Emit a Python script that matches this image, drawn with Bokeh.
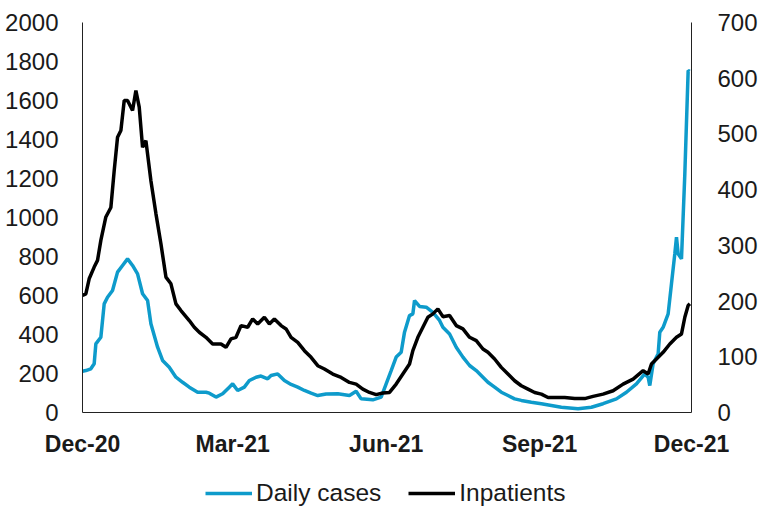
import pandas as pd
from bokeh.plotting import figure
from bokeh.layouts import column
from bokeh.models import (Range1d, LinearAxis, FixedTicker, Legend, LegendItem)
from bokeh.embed import file_html
from bokeh.resources import INLINE

# Daily new cases (left axis)
case_dates = [
    "2020-12-01", "2020-12-03", "2020-12-06", "2020-12-08", "2020-12-09", "2020-12-12",
    "2020-12-14", "2020-12-16", "2020-12-19", "2020-12-22", "2020-12-25", "2020-12-28",
    "2020-12-31", "2021-01-03", "2021-01-06", "2021-01-09", "2021-01-11", "2021-01-15",
    "2021-01-18", "2021-01-22", "2021-01-26", "2021-01-30", "2021-02-03", "2021-02-08",
    "2021-02-13", "2021-02-15", "2021-02-19", "2021-02-23", "2021-02-27", "2021-03-01",
    "2021-03-04", "2021-03-08", "2021-03-11", "2021-03-15", "2021-03-18", "2021-03-22",
    "2021-03-24", "2021-03-28", "2021-04-01", "2021-04-05", "2021-04-09", "2021-04-13",
    "2021-04-17", "2021-04-21", "2021-04-26", "2021-05-03", "2021-05-10", "2021-05-14",
    "2021-05-17", "2021-05-24", "2021-05-29", "2021-06-01", "2021-06-04", "2021-06-07",
    "2021-06-10", "2021-06-12", "2021-06-15", "2021-06-17", "2021-06-18", "2021-06-21",
    "2021-06-25", "2021-06-29", "2021-07-03", "2021-07-05", "2021-07-09", "2021-07-13",
    "2021-07-17", "2021-07-21", "2021-07-25", "2021-07-29", "2021-08-01", "2021-08-05",
    "2021-08-09", "2021-08-13", "2021-08-17", "2021-08-21", "2021-08-27", "2021-09-02",
    "2021-09-08", "2021-09-14", "2021-09-24", "2021-10-02", "2021-10-09", "2021-10-17",
    "2021-10-23", "2021-10-29", "2021-11-03", "2021-11-05", "2021-11-06", "2021-11-08",
    "2021-11-11", "2021-11-12", "2021-11-14", "2021-11-17", "2021-11-19", "2021-11-21",
    "2021-11-22", "2021-11-23", "2021-11-25", "2021-11-27", "2021-11-29", "2021-11-30",
]
daily_cases = [
    212, 215, 224, 250, 352, 386,
    557, 591, 626, 720, 754, 788,
    754, 711, 609, 574, 455, 335,
    267, 232, 181, 155, 130, 104,
    104, 99, 79, 96, 130, 147,
    113, 130, 164, 181, 187, 173,
    190, 198, 164, 144, 130, 113,
    99, 87, 95, 96, 87, 109,
    70, 65, 79, 147, 215, 284,
    309, 412, 497, 506, 574, 544,
    540, 514, 472, 437, 403, 335,
    284, 241, 215, 181, 155, 130,
    104, 87, 70, 62, 53, 45,
    36, 27, 19, 27, 45, 70,
    104, 147, 198, 181, 138, 250,
    301, 412, 437, 506, 660, 814,
    899, 814, 788, 1224, 1754, 1750,
]

# Patients in hospital (right axis)
inpatient_dates = [
    "2020-12-01", "2020-12-03", "2020-12-05", "2020-12-08", "2020-12-10", "2020-12-12",
    "2020-12-15", "2020-12-18", "2020-12-20", "2020-12-22", "2020-12-24", "2020-12-26",
    "2020-12-28", "2020-12-31", "2021-01-02", "2021-01-04", "2021-01-06", "2021-01-08",
    "2021-01-11", "2021-01-14", "2021-01-17", "2021-01-20", "2021-01-23", "2021-01-26",
    "2021-01-29", "2021-02-03", "2021-02-06", "2021-02-09", "2021-02-13", "2021-02-17",
    "2021-02-22", "2021-02-25", "2021-02-28", "2021-03-03", "2021-03-06", "2021-03-10",
    "2021-03-13", "2021-03-16", "2021-03-20", "2021-03-23", "2021-03-26", "2021-03-30",
    "2021-04-02", "2021-04-05", "2021-04-09", "2021-04-13", "2021-04-17", "2021-04-21",
    "2021-04-25", "2021-04-30", "2021-05-05", "2021-05-10", "2021-05-14", "2021-05-18",
    "2021-05-22", "2021-05-26", "2021-05-30", "2021-06-03", "2021-06-07", "2021-06-11",
    "2021-06-15", "2021-06-17", "2021-06-20", "2021-06-23", "2021-06-26", "2021-06-29",
    "2021-07-02", "2021-07-05", "2021-07-09", "2021-07-13", "2021-07-17", "2021-07-21",
    "2021-07-25", "2021-07-29", "2021-08-01", "2021-08-05", "2021-08-09", "2021-08-13",
    "2021-08-17", "2021-08-21", "2021-08-25", "2021-08-29", "2021-09-02", "2021-09-06",
    "2021-09-10", "2021-09-16", "2021-09-22", "2021-09-28", "2021-10-03", "2021-10-09",
    "2021-10-15", "2021-10-21", "2021-10-27", "2021-11-02", "2021-11-05", "2021-11-07",
    "2021-11-10", "2021-11-14", "2021-11-18", "2021-11-22", "2021-11-25", "2021-11-27",
    "2021-11-29", "2021-11-30",
]
inpatients = [
    210, 213, 240, 261, 273, 309,
    351, 368, 434, 494, 506, 560,
    560, 542, 578, 548, 476, 488,
    416, 357, 303, 243, 231, 195,
    183, 165, 153, 144, 135, 123,
    123, 117, 132, 135, 156, 153,
    168, 159, 171, 159, 168, 156,
    150, 135, 126, 111, 99, 84,
    78, 69, 63, 54, 51, 42,
    36, 32, 35, 36, 51, 69,
    87, 111, 135, 153, 171, 177,
    186, 172, 174, 156, 150, 135,
    129, 114, 108, 96, 81, 69,
    57, 48, 42, 36, 33, 27,
    27, 27, 25, 25, 29, 33,
    39, 51, 60, 75, 69, 87,
    96, 108, 123, 135, 141, 171,
    192, 195,
]

x_tick_dates = ["2020-12-01", "2021-03-01", "2021-06-01", "2021-09-01", "2021-12-01"]
x_tick_labels = ["Dec-20", "Mar-21", "Jun-21", "Sep-21", "Dec-21"]
left_ticks = [0, 200, 400, 600, 800, 1000, 1200, 1400, 1600, 1800, 2000]
right_ticks = [0, 100, 200, 300, 400, 500, 600, 700]
series_names = ["Daily cases", "Inpatients"]

BLUE = "#0E9BCB"
FONT = "Liberation Sans"
TEXT = "#1a1a1a"
LINE_W = 3.5


def to_ms(d):
    return pd.Timestamp(d).value / 1e6


case_x = pd.to_datetime(case_dates)
inp_x = pd.to_datetime(inpatient_dates)
x_start, x_end = to_ms("2020-12-01"), to_ms("2021-12-01")

# ---- main chart ----
p = figure(width=760, height=464, x_axis_type="datetime",
           output_backend="svg", toolbar_location=None,
           x_range=Range1d(x_start, x_end),
           y_range=Range1d(0, 2000),
           min_border_left=82, min_border_right=61,
           min_border_top=22, min_border_bottom=52)
p.extra_y_ranges = {"inp": Range1d(0, 700)}
p.outline_line_color = None
p.background_fill_color = "white"
p.border_fill_color = "white"
p.xgrid.visible = False
p.ygrid.visible = False

p.line(case_x, daily_cases, line_color=BLUE, line_width=LINE_W)
p.line(inp_x, inpatients, line_color="black", line_width=LINE_W,
       y_range_name="inp")

# Left axis
yl = p.yaxis[0]
yl.ticker = FixedTicker(ticks=left_ticks)
yl.major_label_text_font = FONT
yl.major_label_text_font_size = "24px"
yl.major_label_text_color = TEXT
yl.major_label_standoff = 18
yl.major_tick_line_color = None
yl.minor_tick_line_color = None
yl.axis_line_color = "#222222"

# Right axis
yr = LinearAxis(y_range_name="inp", ticker=FixedTicker(ticks=right_ticks))
yr.major_label_text_font = FONT
yr.major_label_text_font_size = "24px"
yr.major_label_text_color = TEXT
yr.major_label_standoff = 20
yr.major_tick_line_color = None
yr.minor_tick_line_color = None
yr.axis_line_color = "#222222"
p.add_layout(yr, "right")

# Bottom axis
xa = p.xaxis[0]
tick_ms = [to_ms(d) for d in x_tick_dates]
xa.ticker = FixedTicker(ticks=tick_ms)
xa.major_label_overrides = {t: lab for t, lab in zip(tick_ms, x_tick_labels)}
xa.major_label_text_font = FONT
xa.major_label_text_font_size = "23px"
xa.major_label_text_font_style = "bold"
xa.major_label_text_color = TEXT
xa.major_label_standoff = 18
xa.major_tick_in = 0
xa.major_tick_out = 0
xa.major_tick_line_color = None
xa.minor_tick_line_color = None
xa.axis_line_color = "#222222"

# ---- legend strip under the chart ----
# The strip's ranges keep the series out of view; only the legend shows.
lf = figure(width=760, height=45, output_backend="svg", toolbar_location=None,
            x_range=Range1d(0, 1), y_range=Range1d(0, 1),
            min_border=0, x_axis_type=None, y_axis_type=None)
lf.outline_line_color = None
lf.xgrid.visible = False
lf.ygrid.visible = False
lr_cases = lf.line(case_x, daily_cases, line_color=BLUE, line_width=LINE_W)
lr_inp = lf.line(inp_x, inpatients, line_color="black", line_width=LINE_W)

legend = Legend(items=[LegendItem(label=series_names[0], renderers=[lr_cases]),
                       LegendItem(label=series_names[1], renderers=[lr_inp])],
                orientation="horizontal", location=(123, 2),
                padding=0, margin=0, spacing=27,
                glyph_width=47, label_standoff=4,
                border_line_color=None, background_fill_alpha=0,
                label_text_font=FONT, label_text_font_size="24.5px",
                label_text_color=TEXT)
lf.add_layout(legend, "center")

layout = column(p, lf, spacing=0)
open("out.html", "w").write(file_html(layout, INLINE))
